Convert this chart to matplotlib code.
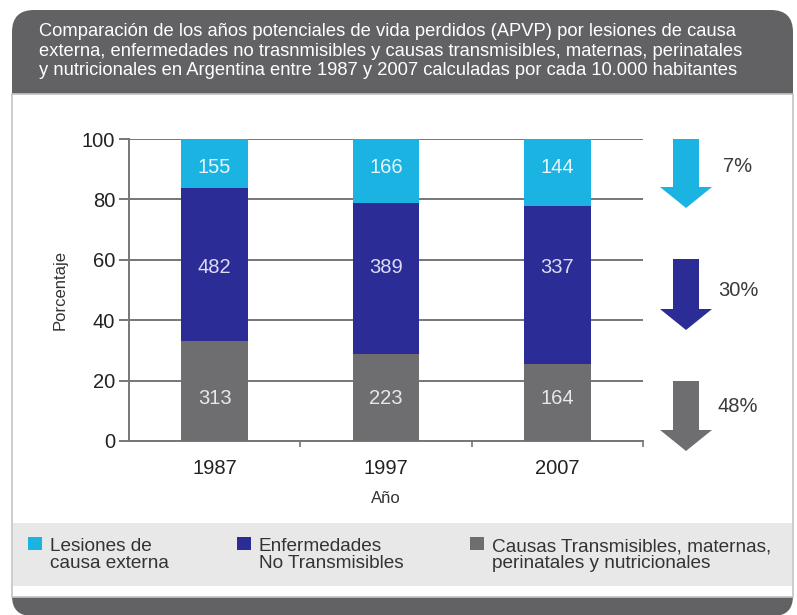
import matplotlib
matplotlib.use("Agg")
import matplotlib.pyplot as plt
from matplotlib import font_manager
from matplotlib.patches import FancyBboxPatch, Rectangle, FancyArrow
import numpy as np

years = ["1987", "1997", "2007"]
externa = [155, 166, 144]
no_trans = [482, 389, 337]
trans = [313, 223, 164]
cambios = ["7%", "30%", "48%"]

series_names = ["Lesiones de\ncausa externa", "Enfermedades\nNo Transmisibles",
                "Causas Transmisibles, maternas,\nperinatales y nutricionales"]
title = ("Comparación de los años potenciales de vida perdidos (APVP) por lesiones de causa\n"
         "externa, enfermedades no trasnmisibles y causas transmisibles, maternas, perinatales\n"
         "y nutricionales en Argentina entre 1987 y 2007 calculadas por cada 10.000 habitantes")

c_cyan = "#1ab3e2"
c_navy = "#2b2c95"
c_gray = "#6e6e70"
c_band = "#626264"

installed = {f.name for f in font_manager.fontManager.ttflist}
narrow = "Liberation Sans Narrow" if "Liberation Sans Narrow" in installed else "Liberation Sans"
plt.rcParams["font.family"] = ["Liberation Sans", "DejaVu Sans"]

W, H = 797, 615
fig = plt.figure(figsize=(W / 100, H / 100), dpi=100)
fig.patch.set_facecolor("white")

# background drawing layer in pixel coords
bg = fig.add_axes([0, 0, 1, 1], zorder=0)
bg.set_xlim(0, W)
bg.set_ylim(H, 0)
bg.axis("off")

bg.add_patch(FancyBboxPatch((12, 10), 781, 120, boxstyle="round,pad=0,rounding_size=22",
                            fc=c_band, ec="none"))
bg.add_patch(FancyBboxPatch((12, 560), 781, 56, boxstyle="round,pad=0,rounding_size=20",
                            fc=c_band, ec="none"))
bg.add_patch(Rectangle((12, 94), 781, 503, fc="white", ec="#c4c4c4", lw=1.2))
bg.add_patch(Rectangle((13, 523), 779, 63, fc="#e8e8e9", ec="none"))

bg.text(39, 51, title, color="white", fontsize=13.2 if narrow == "Liberation Sans" else 13,
        family=narrow, va="center", ha="left", linespacing=1.2)

# arrows with the drop for each group
arrow_cols = [c_cyan, c_navy, c_gray]
arrow_y = [(139, 208), (259, 330), (381, 451)]
label_y = [166, 290, 407]
for (y0, y1), col, lab, ly in zip(arrow_y, arrow_cols, cambios, label_y):
    bg.add_patch(FancyArrow(686, y0, 0, y1 - y0, width=26, head_width=52, head_length=21,
                            length_includes_head=True, fc=col, ec="none"))
    bg.text(738, ly, lab, fontsize=14.5, color="#3a3a3a", ha="center", va="center")

# legend
leg_x = [28, 237, 470]
for x, col, name in zip(leg_x, arrow_cols, series_names):
    bg.add_patch(Rectangle((x, 537), 14, 13, fc=col, ec="none"))
    bg.text(x + 22, 555, name, fontsize=13.7, family=narrow, color="#333333",
            ha="left", va="center", linespacing=1.0)

# chart
tot = np.array(externa) + np.array(no_trans) + np.array(trans)
p_trans = np.array(trans) / tot * 100
p_no = np.array(no_trans) / tot * 100
p_ext = np.array(externa) / tot * 100

ax = fig.add_axes([129 / W, 1 - 441 / H, 514 / W, 302 / H], zorder=1)
ax.patch.set_alpha(0)
x = np.arange(len(years))
bw = 0.39
ax.bar(x, p_trans, bw, color=c_gray, zorder=3)
ax.bar(x, p_no, bw, bottom=p_trans, color=c_navy, zorder=3)
ax.bar(x, p_ext, bw, bottom=p_trans + p_no, color=c_cyan, zorder=3)

# values sit on one common row per series, as in the original
for i in range(len(years)):
    ax.text(x[i], 14.2, str(trans[i]), color="#e8e8e8", fontsize=14.5,
            ha="center", va="center", zorder=4)
    ax.text(x[i], 57.6, str(no_trans[i]), color="#dcdcf4", fontsize=14.5,
            ha="center", va="center", zorder=4)
    ax.text(x[i], 90.7, str(externa[i]), color="#e8f6fc",
            fontsize=14.5, ha="center", va="center", zorder=4)

ax.set_xlim(-0.5, 2.5)
ax.set_ylim(0, 100)
ax.set_yticks([0, 20, 40, 60, 80, 100])
ax.yaxis.grid(True, color="#767676", lw=1.4, zorder=1)
ax.set_xticks(x)
ax.set_xticklabels(years)
ax.set_xticks([0.5, 1.5, 2.5], minor=True)
ax.tick_params(axis="x", which="major", length=0, pad=13, labelsize=14.5, labelcolor="#222222")
ax.tick_params(axis="x", which="minor", length=4, color="#767676", width=1.2)
ax.tick_params(axis="y", length=7, color="#767676", width=1.4, labelsize=14.5,
               labelcolor="#222222", pad=3)
for s in ["top", "right"]:
    ax.spines[s].set_visible(False)
for s in ["left", "bottom"]:
    ax.spines[s].set_color("#767676")
    ax.spines[s].set_linewidth(1.4)
ax.set_ylabel("Porcentaje", fontsize=12, color="#333333", labelpad=10)
ax.set_xlabel("Año", fontsize=12, color="#333333", labelpad=9)

fig.savefig("out.png", dpi=100)
